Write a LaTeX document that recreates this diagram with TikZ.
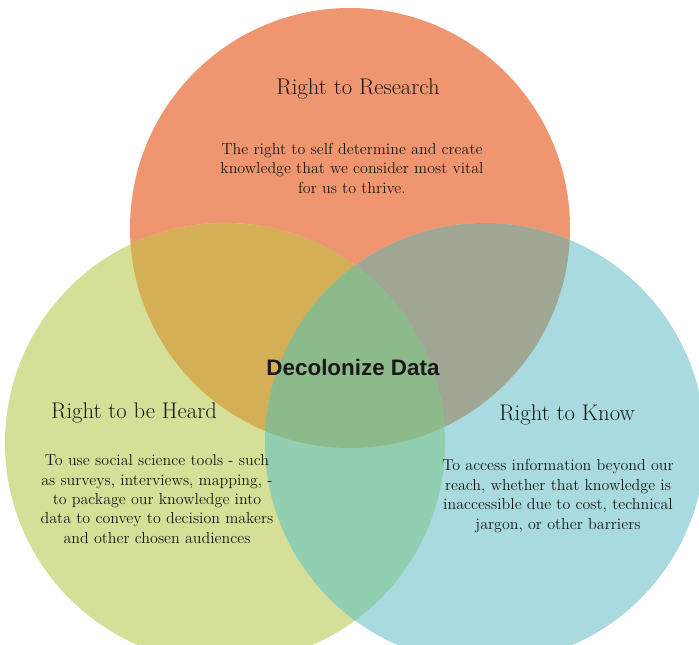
\documentclass[tikz,border=0pt]{standalone}
\usepackage{fontspec}
\newfontfamily\labelfont{Liberation Sans}
\usepackage{tikz}
\usetikzlibrary{positioning}

\definecolor{cResearch}{HTML}{EF9670}
\definecolor{cHeard}{HTML}{D5DF97}
\definecolor{cKnow}{HTML}{A8DADF}
\definecolor{cResHeard}{HTML}{D4AF55}
\definecolor{cResKnow}{HTML}{A0A794}
\definecolor{cHeardKnow}{HTML}{92CFB1}
\definecolor{cAll}{HTML}{8DBA8A}

\begin{document}
\begin{tikzpicture}[x=0.75pt,y=0.75pt,yscale=-1,xscale=1,
  title/.style={inner sep=0.75pt,text=black!90,font=\fontsize{17}{20}\selectfont},
  body/.style={inner sep=0.75pt,text=black!90,align=center,font=\fontsize{12}{14.6}\selectfont},
  core/.style={inner sep=0.75pt,text=black!90,font=\labelfont\bfseries\fontsize{16.8}{20}\selectfont}]
\useasboundingbox (0,0) rectangle (699,644);
\clip (0,0) rectangle (699,644);

%Shape: Circle [research]
\fill [cResearch] (350,228) circle [radius=220];
%Shape: Circle [heard]
\fill [cHeard] (225,443) circle [radius=220];
%Shape: Circle [know]
\fill [cKnow] (485,443) circle [radius=220];

%Overlaps
\begin{scope}
\clip (350,228) circle [radius=220];
\fill [cResHeard] (225,443) circle [radius=220];
\fill [cResKnow] (485,443) circle [radius=220];
\end{scope}
\begin{scope}
\clip (225,443) circle [radius=220];
\fill [cHeardKnow] (485,443) circle [radius=220];
\clip (350,228) circle [radius=220];
\fill [cAll] (485,443) circle [radius=220];
\end{scope}

% Text Node
\node [title] (research) at (358,89) {Right to Research};
% Text Node
\node [body] (researchtxt) at (352,168) {The right to self determine and create\\knowledge that we consider most vital\\for us to thrive.};
% Text Node
\node [title] (heard) at (134,413) {Right to be Heard};
% Text Node
\node [body] (heardtxt) at (157,499) {To use social science tools - such\\as surveys, interviews, mapping, -\\to package our knowledge into\\data to convey to decision makers\\and other chosen audiences};
% Text Node
\node [title] (know) at (567,415) {Right to Know};
% Text Node
\node [body] (knowtxt) at (558,496) {To access information beyond our\\reach, whether that knowledge is\\inaccessible due to cost, technical\\jargon, or other barriers};
% Text Node
\node [core] (decolonize) at (353,367) {Decolonize Data};

\end{tikzpicture}
\end{document}
